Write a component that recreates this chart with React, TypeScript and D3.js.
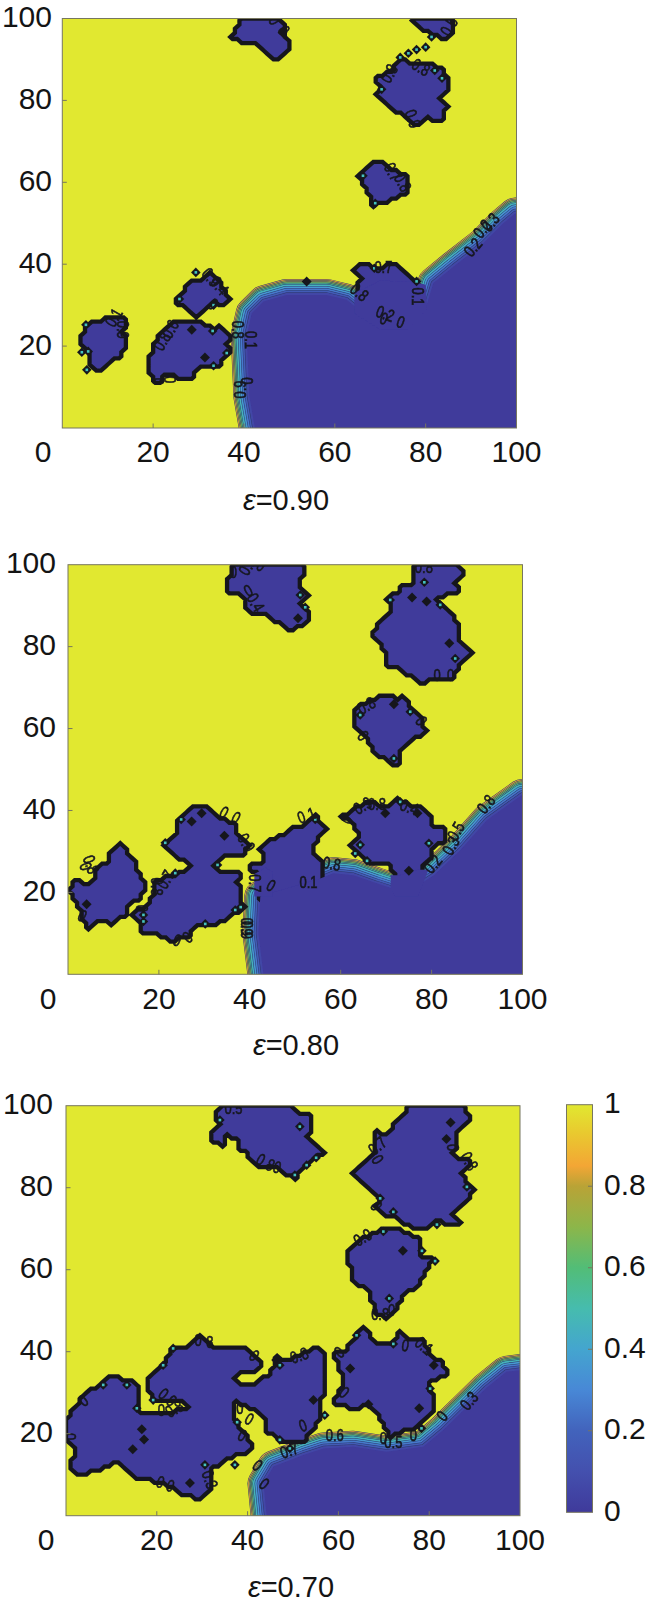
import React from "react";
import * as d3 from "d3";

type P = [number, number];
const xTicks = [0, 20, 40, 60, 80, 100];
const yTicks = [20, 40, 60, 80, 100];
const cbTicks = [0, 0.2, 0.4, 0.6, 0.8, 1];
const levels = [0.9, 0.8, 0.7, 0.6, 0.5, 0.4, 0.3, 0.2, 0.1];
const colorStops = [0, 0.1, 0.2, 0.3, 0.4, 0.5, 0.6, 0.7, 0.8, 0.85, 0.93, 1];
const colorValues = ["#3f3a9b", "#4450ae", "#4263bc", "#4888d6", "#44a5cf", "#46bcae", "#52bd77", "#8cb64a", "#b9a336", "#f3a635", "#e9c92f", "#e1e830"];

// panel 1: epsilon = 0.90
const sea1: P[] = [[42.4, -6], [42.4, 0], [41.2, 7.7], [40.6, 22.4], [41.7, 28], [44.3, 30.9], [49.4, 32.5], [58.2, 32.5], [62.6, 31.3], [66.3, 28], [70, 25.6], [74.4, 24], [78.1, 27.2], [79.9, 28.9], [81.7, 35.4], [86.1, 39.4], [92.7, 45.1], [97.1, 50], [99.7, 52.4], [106, 52.4], [106, -6]];
const islands1: P[][] = [
  [[39, 100], [40, 99], [38, 97.6], [37, 95.1], [41, 93.9], [43, 93.9], [45, 91], [46.6, 89.6], [48.7, 91], [50.3, 93], [49.4, 95], [49.4, 98], [48, 100]],
  [[7, 26], [10, 26.8], [11.6, 27.4], [14, 26.4], [13.4, 23.2], [14, 20], [12.6, 17.2], [10.5, 16], [8.3, 13.6], [6.5, 15], [5.6, 17], [6.1, 19], [4.6, 20], [3.5, 20.3], [4.6, 22.8], [5.1, 24.4]],
  [[25.2, 26], [28.5, 26], [30.3, 26], [33.3, 24.4], [35.1, 24.8], [37.2, 22.4], [36.2, 20.7], [37.2, 18.3], [35.1, 16.3], [34, 14.6], [30.3, 14.6], [28.5, 12.2], [27, 11.4], [25.2, 12.6], [22.2, 12.6], [21.5, 11], [20.8, 10.2], [19.3, 13.4], [18.7, 14.6], [19.7, 19.1], [20.8, 22], [23, 24.8]],
  [[27, 35], [30.3, 36.2], [32.5, 38.2], [34.7, 36.2], [36.2, 32.9], [37.2, 31.3], [34.7, 29.7], [33.3, 30.9], [31.8, 29.3], [30.3, 28], [29.6, 26.4], [28.5, 28.5], [25.9, 30], [24.7, 31.3], [26.7, 33.3]],
  [[76.9, 100], [78.8, 100], [85.4, 100], [86, 97.6], [85, 95.1], [81.7, 95.9], [79.5, 97.2], [76.9, 99.2]],
  [[74.7, 89.8], [76.6, 89.4], [79.5, 89.4], [81.7, 89], [83.9, 87.4], [85, 85], [84.6, 82.5], [83.2, 80], [84.6, 78.5], [83.6, 77.2], [84.6, 75.6], [81.7, 75.2], [80.3, 76.4], [78.8, 74], [76.6, 74.8], [75.1, 76.8], [72.9, 77.2], [70.7, 79.7], [68.9, 81.3], [70.3, 82.9], [68.9, 84.1], [69.2, 86.2], [72.2, 86.6], [73.6, 89]],
  [[68.9, 65.4], [71, 64.6], [73.6, 62.6], [76.2, 61.8], [76.2, 58.1], [74.4, 56.5], [71.4, 55.3], [70, 55.3], [68.9, 53.9], [67.8, 54.9], [67.4, 57.7], [65.9, 60.2], [64.8, 61.8], [67.4, 64.2]],
  [[65.2, 33.7], [65.2, 34.6], [65.9, 37], [64, 39], [66.6, 40.2], [68.9, 39], [73.6, 40.2], [76.9, 36.3], [79, 34], [79.5, 25], [74, 20], [70, 20], [66, 24]],
];
const covers1: P[][] = [[[64.3, 33.2], [64.3, 28], [70, 24], [76, 24], [80.3, 29], [80, 35], [77.8, 35.6], [70, 36], [66.5, 34]]];
const dots1: P[] = [[5.2, 25.2], [5.7, 18.7], [4.3, 18.5], [5.4, 14.2], [29.4, 38], [25.8, 31.5], [33.1, 23.7], [33.3, 15.2], [36.2, 18.3], [33.3, 30], [66.2, 61.6], [68.9, 54.9], [68.7, 39], [78, 35.8], [74.4, 90.5], [76.2, 91.5], [78, 92.4], [80, 93], [82, 87.3], [83.6, 85.4], [70.3, 82.7], [81.3, 95.5]];
const solid1: P[] = [[28.5, 24], [31.4, 17.2], [53.8, 35.8], [48.5, 96.6]];
const labels1: [number, number, number, string][] = [[11.6, 26.8, -60, "0.1"], [13, 24, 90, "0.9"], [22.2, 21, -60, "0.8"], [24, 24, -60, "0.6"], [20.8, 11.4, 90, "0"], [23.3, 11.8, 90, "0"], [32.5, 36.6, 50, "0.9"], [34.4, 34.5, 50, "0.4"], [33, 30, 40, "0"], [46.5, 99.4, 60, "0"], [48.5, 97, 60, "0"], [38.4, 24, 90, "0.8"], [41.3, 21.5, 90, "0.1"], [39.5, 9.4, -90, "0.9"], [41, 11.5, -90, "0"], [72.2, 86.4, -60, "0.8"], [78.8, 87.8, 30, "0.8"], [76.9, 75.4, 70, "0.9"], [72.5, 62.4, 60, "0.7"], [74.7, 59.8, 60, "0.8"], [85.4, 97.9, -60, "0.5"], [70.7, 39, 0, "0.7"], [65.2, 32.9, 40, "0.8"], [71, 27.6, 20, "0.2"], [74.4, 25.6, 20, "0"], [78, 32.1, 90, "0.1"], [92.7, 48.4, -50, "0.2"], [94.5, 50, -50, "0.3"], [90.6, 43.9, -50, "0.2"], [70.7, 26.4, 20, "0"]];

// panel 2: epsilon = 0.80
const sea2: P[] = [[43, -6], [43, 0], [41.9, 10], [42.3, 19], [44.5, 19.8], [55.5, 23.4], [58.4, 24.7], [62.8, 24.2], [67.9, 22.2], [72.4, 20.6], [76, 21], [80.5, 24.2], [86.3, 30.3], [92.2, 37.7], [99.9, 43.8], [106, 43.8], [106, -6]];
const islands2: P[][] = [
  [[36, 100], [35.7, 97], [34.6, 95.8], [35.3, 93.4], [37, 93], [39, 92.2], [39.5, 89], [40.8, 88.1], [43, 88.1], [45.6, 86.1], [48.9, 84], [51.5, 85.3], [53.4, 86.9], [52.4, 89.7], [51, 90.2], [53.3, 92.6], [51, 93.8], [51, 96.2], [52.6, 98.3], [51.5, 100]],
  [[76.1, 100], [76.1, 95.4], [73.5, 95.4], [72.4, 93], [70.2, 91.8], [71.3, 88.1], [68.7, 86.5], [68, 84.5], [67, 82.8], [68.7, 80.4], [70.2, 77.5], [69.8, 75.5], [71.7, 75.1], [75.3, 72.7], [77.9, 71], [80.5, 72.3], [84.1, 71.4], [86, 75.5], [88.9, 78.4], [86.3, 81.6], [86, 84.5], [84.9, 86.9], [83.4, 89.3], [81.2, 91.4], [84, 93], [86.7, 93.8], [85.2, 95.8], [86.7, 97.1], [86.7, 99.1], [85.5, 100]],
  [[63.6, 65.3], [68, 67.4], [70.2, 68.4], [72.4, 67.4], [73.8, 68.2], [75.3, 64.9], [78.2, 62.1], [78.6, 59.2], [76, 57.2], [73.5, 54.8], [73.2, 52], [72.4, 50.7], [71, 50.7], [70, 53], [68, 53.5], [65.8, 57.2], [63.6, 59.6], [62.8, 62]],
  [[0.1, 20.6], [1.9, 23.4], [4.1, 21.8], [5.6, 23.4], [7, 26.7], [9.3, 26.7], [9.6, 32], [10.7, 31.2], [12.2, 32], [13.3, 29.1], [15.1, 27.5], [14.8, 25.5], [15.9, 25.1], [17, 20.6], [15.9, 18.6], [13.3, 16.9], [13.3, 14.5], [10.7, 13.7], [9.3, 11.6], [7.8, 13.7], [5.6, 12], [4.5, 11.2], [3, 14.1], [2.3, 16.5], [1.2, 18.1]],
  [[23.6, 37.3], [27.6, 40.9], [29.8, 41.1], [32, 39.3], [33.5, 37.7], [36.8, 37.3], [37.5, 33.6], [40.1, 31.2], [37.9, 28.7], [34.9, 29.5], [32.7, 27.1], [31.3, 26.7], [33.5, 25.1], [37.9, 24.7], [37.2, 22.2], [38.3, 19.8], [37.9, 17.3], [39, 16.1], [34.2, 13.3], [32, 12], [28.3, 12.4], [26.9, 9.2], [23.9, 8.4], [21.7, 8.4], [19.5, 10], [16.6, 9.6], [16.2, 12], [13.7, 14.5], [17.3, 16.5], [18.8, 19], [19.5, 23], [24.7, 24.7], [26.9, 26.3], [26.5, 27.5], [23.2, 29.1], [21, 32], [23.6, 33.6]],
  [[39.5, 25], [40.5, 27.5], [42, 26.5], [41.5, 24.5]],
  [[72.4, 23.4], [72, 24.7], [70.6, 26.7], [68, 26.7], [65.8, 27.1], [64, 29.9], [62.1, 31.6], [64, 34], [62.8, 37.3], [60.3, 38.5], [62.8, 40.1], [65, 41.7], [70.9, 41.3], [72.7, 43], [74.2, 41.7], [78.2, 40.9], [79.7, 38.5], [79.7, 36.5], [82.7, 35.6], [82.7, 32.4], [80.1, 31.2], [79.7, 28.3], [78, 26], [76, 16], [72.4, 16]],
  [[43.4, 27.9], [41.9, 30.8], [44.1, 32.4], [47.8, 34.4], [49.3, 35.6], [51.8, 36.5], [54.4, 38.9], [57.3, 35.2], [55.1, 33.6], [53.3, 29.9], [55.5, 27.9], [56.2, 24.2], [55.5, 19], [44.5, 15], [42.8, 15], [41.8, 25.5]],
];
const covers2: P[][] = [
  [[71, 24.2], [73, 24.2], [77, 25.5], [79.3, 25.5], [77, 19], [72, 19], [71, 21]],
  [[41, 19], [41, 24.5], [43.5, 26], [45, 25], [45, 19]],
];
const dots2: P[] = [[16.6, 14.5], [16.6, 12.9], [21.4, 32.1], [24.9, 37.8], [23.6, 24.7], [32.9, 26.7], [30.2, 12.3], [36.8, 15.7], [38, 16.4], [54.4, 37.8], [51.1, 92.6], [52.2, 89.6], [70.9, 91.4], [78.4, 95.7], [81.9, 90.2], [85.2, 77.1], [64.3, 63.3], [75.3, 64.1], [71.7, 52.7], [79.4, 32], [64.3, 31.6], [63.2, 29.5], [65.8, 27.7], [73.1, 42.1]];
const solid2: P[] = [[4.1, 17.1], [27.2, 37.3], [29.4, 39.3], [34.4, 33.8], [50.6, 86.9], [75.7, 92], [78.9, 91], [83.9, 80.8], [71.7, 65.9], [69.8, 39.3], [76.9, 39.3], [75, 25.3]];
const labels2: [number, number, number, string][] = [[4.8, 26.7, 70, "0.8"], [3.6, 26.2, 70, "0"], [19.2, 21.4, 90, "0.8"], [21.7, 23, -60, "0.7"], [23.9, 8, 20, "0"], [26.5, 8.8, -40, "0"], [3, 14, 30, "0"], [15.9, 16.1, 90, "0"], [34.2, 39.3, 30, "0"], [36.8, 38, 30, "0"], [39, 32, 60, "0.9"], [39, 10.8, 90, "0.9"], [39.7, 99.5, -60, "0.9"], [42.3, 99.5, 30, "0"], [36.4, 97.9, 0, "0"], [39.8, 93.4, -30, "0"], [41, 90.6, 60, "0.4"], [78.3, 99.1, 0, "0.8"], [65.8, 65.3, -30, "0.8"], [77.5, 61.7, 60, "0"], [64.7, 58, 50, "0"], [81.2, 72.7, 0, "0"], [84.2, 72.7, 0, "0"], [61.4, 37.7, -60, "0"], [65, 40.9, -30, "0.9"], [68, 41.3, 0, "0.8"], [75, 40.5, 20, "0.4"], [52.6, 38.5, -20, "0.1"], [58, 26.7, 10, "0.8"], [52.9, 22.2, 0, "0.1"], [44.5, 21.4, 30, "0"], [40.8, 22.2, 90, "0.7"], [85.6, 34.8, -60, "0.5"], [84.5, 31.2, -60, "0.3"], [80.5, 26.7, -50, "0.2"], [92.2, 41.3, -50, "0.8"], [39, 11.6, 90, "0.9"]];

// panel 3: epsilon = 0.70
const sea3: P[] = [[44.2, -6], [44.2, 0], [43.5, 7.9], [45.7, 12], [52.3, 14.8], [56.7, 16.4], [63.3, 16.8], [70.6, 15.6], [78.7, 16.8], [83.1, 20.9], [92.5, 31.1], [97, 35.1], [100, 35.5], [106, 35.5], [106, -6]];
const islands3: P[][] = [
  [[33.9, 100], [32.5, 98.1], [33.9, 95.7], [31.7, 93.7], [31.7, 90.8], [34.7, 90.4], [35.4, 92.8], [38, 92], [38.3, 89.2], [39.4, 88.8], [42, 85.5], [46.8, 84.7], [47.9, 83.1], [50.4, 82.3], [53, 85.5], [55.2, 87.6], [57.4, 88], [53, 92], [54.5, 94.1], [54.5, 97.7], [51.5, 98.5], [49.3, 100]],
  [[75.8, 100], [73.9, 97.7], [72.1, 95.7], [71, 93.3], [67.7, 93.7], [68.4, 90], [66.2, 86.3], [62.9, 83.1], [66.2, 80.7], [69.2, 77.8], [68.1, 75.4], [70.3, 72.5], [72.1, 73.3], [74.7, 70.9], [78, 69.3], [81.6, 71.7], [87.5, 70.5], [85.3, 73.7], [89, 77.8], [89.7, 79.4], [87.2, 83.5], [89.4, 86.7], [85.3, 87.6], [86.1, 93.3], [86.8, 94.9], [89.4, 96.9], [87.5, 99.8], [86.8, 100]],
  [[62.9, 66], [66.2, 68], [69.9, 69.7], [73.6, 69.7], [78, 67.6], [78.3, 63.2], [81.6, 62.8], [78.7, 59.5], [78.3, 55.9], [75, 54.6], [73.2, 51], [70.6, 48.1], [68.4, 49.3], [66.6, 55], [63.3, 56.7], [62.9, 59.9], [61.8, 62.4], [62.6, 65.2]],
  [[59.5, 39.6], [61.1, 39.6], [64, 44.1], [65.5, 46.1], [68.4, 42], [72.1, 42], [73.6, 44.9], [75.8, 42.8], [78.7, 42.8], [80.2, 39.2], [83.1, 37.6], [83.9, 33.9], [79.4, 33.1], [80.9, 28.6], [80.9, 25.4], [77.2, 21.3], [74.3, 20.5], [71.4, 19.3], [69.9, 21.7], [68.4, 25], [66.2, 27], [63.3, 25.4], [61.1, 27.4], [59, 27.4], [60, 30], [61.1, 33.1], [60.2, 36.3], [59.5, 38.4]],
  [[41.3, 31.9], [45.3, 35.1], [46.4, 38.8], [48.6, 38], [55.2, 41.2], [57.4, 38.8], [56.8, 33.9], [56.8, 32], [56.5, 29], [55.5, 27], [55.9, 23.3], [54.1, 20.9], [52.6, 18.5], [48.6, 17.6], [46.4, 19.3], [43.8, 20.9], [43.8, 23.3], [41.6, 25.8], [41, 28.2]],
  [[0, 23.3], [1.2, 25.8], [4.6, 29.8], [7.5, 32.3], [10, 33.9], [14.5, 33.1], [16.7, 30.2], [15.6, 26.6], [16.7, 25], [22.2, 25], [26.9, 26.2], [25.1, 28.2], [19.6, 28.2], [17.8, 31.9], [17.8, 33.9], [20, 35.1], [21.8, 37.6], [23.3, 40.8], [26.6, 41.2], [29.5, 44.1], [32.5, 41.2], [39.1, 41.2], [43.1, 37.2], [41.3, 34.7], [38.3, 34.7], [36.9, 33.1], [39.8, 31.5], [41.6, 31.9], [42.7, 26.6], [40.5, 25.8], [37.6, 28.2], [36.9, 25.4], [38, 21.7], [40.2, 18.9], [40.9, 16], [36.9, 14.4], [35.4, 13.6], [33.2, 11.5], [31.7, 12], [32.5, 7.1], [28.8, 3.4], [28, 5], [25.1, 5.4], [23.6, 7.1], [18.5, 8.7], [15.6, 8.7], [13.4, 11.1], [11.9, 13.2], [9, 12], [3.1, 9.5], [0.5, 12], [2.3, 14.8], [1.2, 18.5], [0, 18.5]],
];
const covers3: P[][] = [];
const dots3: P[] = [[8.2, 31.9], [13.4, 31.9], [15.6, 26.2], [33.9, 96.5], [21.4, 36.7], [23.6, 40.8], [19.2, 28.2], [30.6, 12.4], [37.2, 12.4], [37.7, 22.8], [47.1, 36.7], [50.4, 83.1], [53, 85.5], [55.1, 87.3], [47.1, 18.5], [49.3, 16.4], [57, 24.5], [51.5, 94.9], [88.3, 80.2], [81.7, 71], [72.1, 74.1], [69.2, 77.4], [69.9, 69.3], [78.4, 64.6], [81.3, 62.1], [71.2, 53], [64, 44], [72.1, 41.9], [80.2, 31], [78.3, 21.3]];
const solid3: P[] = [[16.7, 21.1], [17.2, 18.6], [14.7, 16.2], [27.3, 8], [54.5, 28.2], [46.3, 38], [84.7, 95.9], [83.8, 91.9], [74.2, 64.6], [62.6, 35.9], [81, 36.7], [66.6, 27.2], [77.8, 26.2]];
const labels3: [number, number, number, string][] = [[0.5, 19.3, 90, "0"], [4, 27.8, -40, "0"], [22.2, 28.6, 40, "0.9"], [21, 25.4, 0, "0"], [24, 25.8, -30, "0.8"], [29.1, 42.4, 0, "0"], [31.7, 42, 0, "8"], [41.3, 38.8, 40, "0"], [36.9, 99, 0, "0.5"], [43.8, 85.9, 30, "0.8"], [46.4, 84.7, 20, "0"], [20.7, 7.9, 20, "0"], [22.9, 7, 20, "0"], [31.4, 8.7, 70, "0.3"], [51.5, 38.8, -20, "0.8"], [38.3, 25.8, 0, "0"], [40.2, 23.3, 30, "0"], [38.7, 19.3, 30, "0"], [52.3, 21.7, -20, "0"], [68.8, 90, -40, "0.7"], [68.4, 86.7, 60, "0"], [84.9, 89.8, 90, "0"], [88.6, 86.3, 60, "0.8"], [68.1, 75.4, 60, "0"], [65.5, 67.6, -30, "0.9"], [69.2, 48.9, 0, "0.8"], [71.7, 49.8, 0, "0"], [74.7, 41.2, 10, "0"], [78.7, 41.2, 40, "0.1"], [60.4, 39.6, -40, "0"], [61.1, 29.8, 40, "0"], [59.2, 19.3, 0, "0.6"], [69.9, 18.5, 0, "0"], [72.1, 17.6, 0, "0.5"], [76.5, 19.3, 0, "0"], [83.1, 24.1, -50, "0"], [89, 27.8, -50, "0.3"], [42, 12, 40, "0"], [43.5, 7.5, 40, "0"], [49.3, 15.6, -20, "0.7"]];

const panels = [
  { id: "a", title: "0.90", left: 62.3, right: 516.5, top: 18.5, bottom: 428, labelRight: 52, zeroX: 43, baseX: 462, capX: 286, capY: 510, sea: sea1, islands: islands1, covers: covers1, dots: dots1, solid: solid1, labels: labels1 },
  { id: "b", title: "0.80", left: 68, right: 522.5, top: 564.7, bottom: 974.3, labelRight: 56, zeroX: 48, baseX: 1009, capX: 296, capY: 1055, sea: sea2, islands: islands2, covers: covers2, dots: dots2, solid: solid2, labels: labels2 },
  { id: "c", title: "0.70", left: 66, right: 520, top: 1105.7, bottom: 1515.7, labelRight: 53, zeroX: 46, baseX: 1550, capX: 291, capY: 1597, sea: sea3, islands: islands3, covers: covers3, dots: dots3, solid: solid3, labels: labels3 },
];

const BLUE = colorValues[0];
const YELLOW = colorValues[colorValues.length - 1];
const color = d3.scaleLinear<string>().domain(colorStops).range(colorValues);
const FONT = "'Liberation Sans', Arial, sans-serif";
const INK = "#17181f";
const FRAME = "#77765f";
const bandOffset = d3.scaleLinear().domain([0, 0.5, 0.9]).range([0, 10.5, 15.5]);

// The islands are sampled on a unit grid, so they take the stepped shape of a
// contour drawn through a binary field.
const GRID = 100;
function islandRings(islands: P[][]): P[][] {
  const values: number[] = [];
  for (let j = 0; j < GRID; j++) {
    for (let i = 0; i < GRID; i++) {
      const pt: P = [i + 0.5, j + 0.5];
      values.push(islands.some((poly) => d3.polygonContains(poly, pt)) ? 1 : 0);
    }
  }
  const shape = d3.contours().size([GRID, GRID]).thresholds([0.5])(values)[0];
  const rings: P[][] = [];
  shape.coordinates.forEach((polygon) =>
    polygon.forEach((ring) => rings.push(ring.map((c) => [c[0], c[1]] as P)))
  );
  return rings;
}

function Panel({ p }: { p: (typeof panels)[number] }) {
  const x = d3.scaleLinear().domain([0, 100]).range([p.left, p.right]);
  const y = d3.scaleLinear().domain([0, 100]).range([p.bottom, p.top]);
  const closed = d3.line<P>().x((d) => x(d[0])).y((d) => y(d[1])).curve(d3.curveLinearClosed);
  const seaPath = closed(p.sea) as string;
  const islandPath = islandRings(p.islands).map((r) => closed(r)).join("");
  const clip = `clip-${p.id}`;
  const diamond = (d: P, r: number) => {
    const cx = x(d[0]), cy = y(d[1]);
    return `M${cx - r},${cy}L${cx},${cy - r}L${cx + r},${cy}L${cx},${cy + r}Z`;
  };
  return (
    <g>
      <clipPath id={clip}>
        <rect x={p.left} y={p.top} width={p.right - p.left} height={p.bottom - p.top} />
      </clipPath>
      <rect x={p.left} y={p.top} width={p.right - p.left} height={p.bottom - p.top} fill={YELLOW} />
      <g clipPath={`url(#${clip})`} filter="url(#soft)">
        {levels.map((l) => (
          <g key={l} fill="none" strokeLinejoin="round">
            <path d={seaPath} stroke="#2b3a6c" strokeWidth={bandOffset(l) * 2 + 1} />
            <path d={seaPath} stroke={color(l - 0.04)} strokeWidth={bandOffset(l) * 2} />
          </g>
        ))}
        <path d={islandPath} fill={BLUE} fillRule="evenodd" stroke={INK} strokeWidth={4.3} strokeLinejoin="miter" strokeMiterlimit={3} />
        <path d={seaPath} fill={BLUE} stroke="none" />
        {p.covers.map((c, i) => (
          <path key={i} d={closed(c) as string} fill={BLUE} stroke="none" />
        ))}
        {p.solid.map((d, i) => (
          <path key={i} d={diamond(d, 5)} fill={INK} />
        ))}
        {p.dots.map((d, i) => (
          <g key={i}>
            <path d={diamond(d, 4.8)} fill={INK} />
            <rect x={x(d[0]) - 1.3} y={y(d[1]) - 1.3} width={2.6} height={2.6} fill="#45c4c0" />
          </g>
        ))}
        {p.labels.map((l, i) => (
          <text key={i} transform={`translate(${x(l[0])},${y(l[1])}) rotate(${l[2]}) scale(1,1.3)`} textAnchor="middle" dominantBaseline="middle" fontFamily={FONT} fontSize={13} fill={INK} stroke={INK} strokeWidth={0.5}>
            {l[3]}
          </text>
        ))}
      </g>
      <rect x={p.left} y={p.top} width={p.right - p.left} height={p.bottom - p.top} fill="none" stroke={FRAME} strokeWidth={1} />
      {xTicks.slice(1, -1).map((t) => (
        <line key={t} x1={x(t)} x2={x(t)} y1={p.bottom} y2={p.bottom - 4.5} stroke={FRAME} />
      ))}
      {yTicks.slice(0, -1).map((t) => (
        <line key={t} x1={p.left} x2={p.left + 4.5} y1={y(t)} y2={y(t)} stroke={FRAME} />
      ))}
      {xTicks.map((t) => (
        <text key={t} x={t === 0 ? p.zeroX : x(t)} y={p.baseX} textAnchor="middle" fontFamily={FONT} fontSize={30} fill="#141414">
          {t}
        </text>
      ))}
      {yTicks.map((t) => (
        <text key={t} x={p.labelRight} y={y(t) + 8.5} textAnchor="end" fontFamily={FONT} fontSize={30} fill="#141414">
          {t}
        </text>
      ))}
      <text x={p.capX} y={p.capY} textAnchor="middle" fontFamily={FONT} fontSize={29} fill="#141414">
        <tspan fontStyle="italic">ε</tspan>={p.title}
      </text>
    </g>
  );
}

function ColorBar() {
  const c = d3.scaleLinear().domain([0, 1]).range([1512.3, 1104.7]);
  return (
    <g>
      <defs>
        <linearGradient id="parula" x1="0" y1="1" x2="0" y2="0">
          {colorStops.map((s, i) => (
            <stop key={s} offset={s} stopColor={colorValues[i]} />
          ))}
        </linearGradient>
      </defs>
      <rect x={566.5} y={c(1)} width={26} height={c(0) - c(1)} fill="url(#parula)" stroke={FRAME} strokeWidth={1} />
      {cbTicks.slice(1, -1).map((t) => (
        <line key={t} x1={588} x2={592.5} y1={c(t)} y2={c(t)} stroke={FRAME} />
      ))}
      {cbTicks.map((t) => (
        <text key={t} x={604} y={c(t) + 8.5} fontFamily={FONT} fontSize={30} fill="#141414">
          {t}
        </text>
      ))}
    </g>
  );
}

export default function App() {
  return (
    <svg width={653} height={1608} viewBox="0 0 653 1608" style={{ position: "absolute", left: 0, top: 0, display: "block", background: "#fff" }}>
      <defs>
        <filter id="soft" x="0" y="0" width="1" height="1">
          <feGaussianBlur stdDeviation="0.35" />
        </filter>
      </defs>
      {panels.map((p) => (
        <Panel key={p.id} p={p} />
      ))}
      <ColorBar />
    </svg>
  );
}
